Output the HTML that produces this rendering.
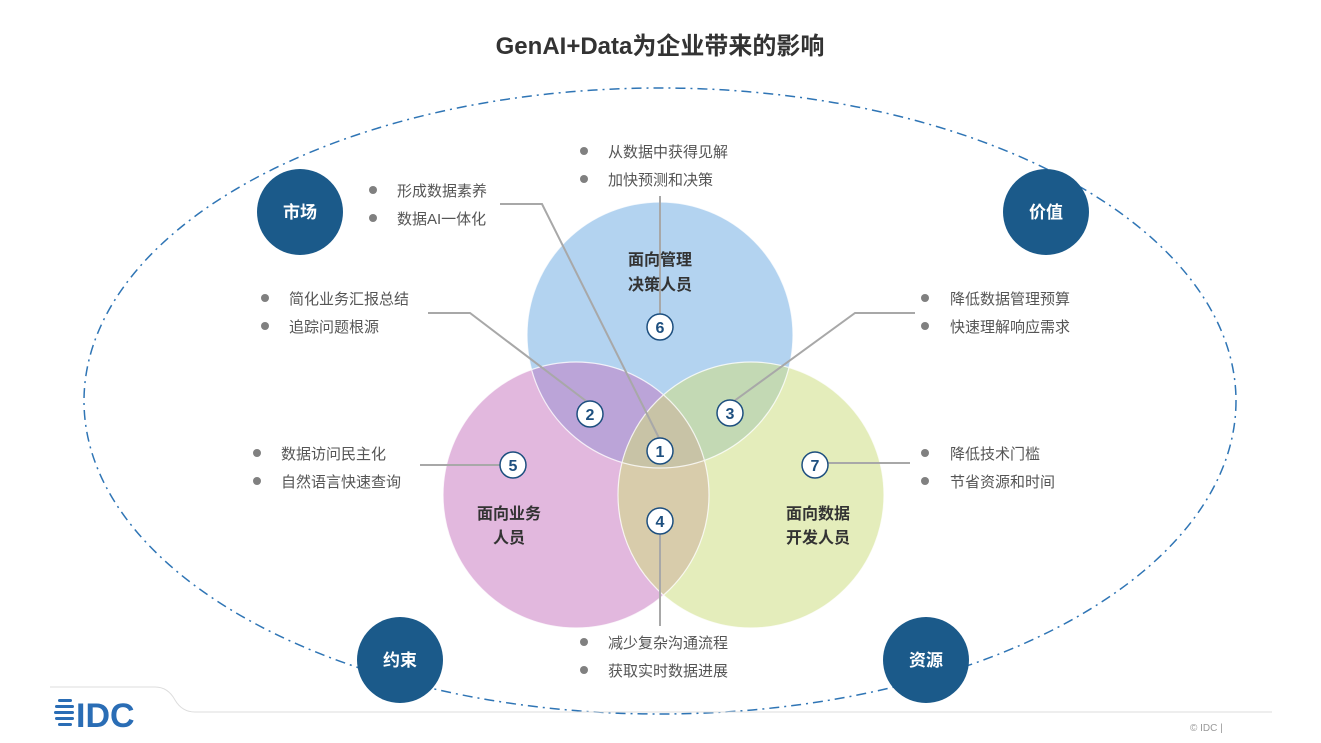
<!DOCTYPE html>
<html><head><meta charset="utf-8"><style>
body{margin:0;width:1321px;height:743px;background:#fff;overflow:hidden;font-family:"Liberation Sans","Noto Sans CJK SC",sans-serif;}
</style></head><body>
<svg width="1321" height="743" viewBox="0 0 1321 743" xmlns="http://www.w3.org/2000/svg" style="position:absolute;left:0;top:0">
<defs>
<clipPath id="cb"><circle cx="660" cy="335" r="133"/></clipPath>
<clipPath id="cp"><circle cx="576" cy="495" r="133"/></clipPath>
<clipPath id="cg"><circle cx="751" cy="495" r="133"/></clipPath>
</defs>
<text x="660" y="54" text-anchor="middle" font-size="24" font-weight="bold" fill="#333" font-family="Liberation Sans, Noto Sans CJK SC, sans-serif">GenAI+Data为企业带来的影响</text>
<ellipse cx="660" cy="401" rx="576" ry="313" fill="none" stroke="#2f75b5" stroke-width="1.5" stroke-dasharray="10,5,2,5"/>
<circle cx="660" cy="335" r="133" fill="#b3d3f0"/>
<circle cx="576" cy="495" r="133" fill="#e2b8de"/>
<circle cx="751" cy="495" r="133" fill="#e4edbb"/>
<circle cx="576" cy="495" r="133" fill="#bba4d8" clip-path="url(#cb)"/>
<circle cx="751" cy="495" r="133" fill="#c3d9b4" clip-path="url(#cb)"/>
<circle cx="751" cy="495" r="133" fill="#d8ccab" clip-path="url(#cp)"/>
<g clip-path="url(#cp)"><circle cx="751" cy="495" r="133" fill="#c8c3a6" clip-path="url(#cb)"/></g>
<g fill="none" stroke="#fff" stroke-width="1.2" opacity="0.8">
<circle cx="660" cy="335" r="133"/><circle cx="576" cy="495" r="133"/><circle cx="751" cy="495" r="133"/>
</g>
<g stroke="#a8a8a8" stroke-width="2" fill="none">
<polyline points="500,204 542,204 660,440"/>
<line x1="660" y1="196" x2="660" y2="314"/>
<polyline points="428,313 470,313 590,404"/>
<polyline points="915,313 855,313 730,404"/>
<line x1="420" y1="465" x2="500" y2="465"/>
<line x1="828" y1="463" x2="910" y2="463"/>
<line x1="660" y1="534" x2="660" y2="626"/>
</g>
<g fill="#fff" stroke="#1d4f7f" stroke-width="1.5">
<circle cx="660" cy="327" r="13"/><circle cx="590" cy="414" r="13"/><circle cx="730" cy="413" r="13"/>
<circle cx="660" cy="451" r="13"/><circle cx="660" cy="521" r="13"/><circle cx="513" cy="465" r="13"/><circle cx="815" cy="465" r="13"/>
</g>
<g fill="#1d4f7f" font-size="16" font-weight="bold" text-anchor="middle" font-family="Liberation Sans, sans-serif">
<text x="660" y="333">6</text><text x="590" y="420">2</text><text x="730" y="419">3</text>
<text x="660" y="457">1</text><text x="660" y="527">4</text><text x="513" y="471">5</text><text x="815" y="471">7</text>
</g>
<g fill="#333" font-size="16" font-weight="bold" text-anchor="middle" font-family="Liberation Sans, Noto Sans CJK SC, sans-serif">
<text x="660" y="265">面向管理</text><text x="660" y="290">决策人员</text>
<text x="509" y="519">面向业务</text><text x="509" y="543">人员</text>
<text x="818" y="519">面向数据</text><text x="818" y="543">开发人员</text>
</g>
<g fill="#1b5a8a">
<circle cx="300" cy="212" r="43"/><circle cx="1046" cy="212" r="43"/>
<circle cx="400" cy="660" r="43"/><circle cx="926" cy="660" r="43"/>
</g>
<g fill="#fff" font-size="17" font-weight="bold" text-anchor="middle" font-family="Liberation Sans, Noto Sans CJK SC, sans-serif">
<text x="300" y="218">市场</text><text x="1046" y="218">价值</text>
<text x="400" y="666">约束</text><text x="926" y="666">资源</text>
</g>
<g fill="#808080">
<circle cx="584" cy="151" r="4"/><circle cx="584" cy="179" r="4"/>
<circle cx="373" cy="190" r="4"/><circle cx="373" cy="218" r="4"/>
<circle cx="265" cy="298" r="4"/><circle cx="265" cy="326" r="4"/>
<circle cx="925" cy="298" r="4"/><circle cx="925" cy="326" r="4"/>
<circle cx="257" cy="453" r="4"/><circle cx="257" cy="481" r="4"/>
<circle cx="925" cy="453" r="4"/><circle cx="925" cy="481" r="4"/>
<circle cx="584" cy="642" r="4"/><circle cx="584" cy="670" r="4"/>
</g>
<g fill="#555" font-size="15" font-family="Liberation Sans, Noto Sans CJK SC, sans-serif">
<text x="608" y="157">从数据中获得见解</text><text x="608" y="185">加快预测和决策</text>
<text x="397" y="196">形成数据素养</text><text x="397" y="224">数据AI一体化</text>
<text x="289" y="304">简化业务汇报总结</text><text x="289" y="332">追踪问题根源</text>
<text x="950" y="304">降低数据管理预算</text><text x="950" y="332">快速理解响应需求</text>
<text x="281" y="459">数据访问民主化</text><text x="281" y="487">自然语言快速查询</text>
<text x="950" y="459">降低技术门槛</text><text x="950" y="487">节省资源和时间</text>
<text x="608" y="648">减少复杂沟通流程</text><text x="608" y="676">获取实时数据进展</text>
</g>
<path d="M50,687 L155,687 Q168,687 175,700 Q182,712 195,712 L1272,712" fill="none" stroke="#ddd" stroke-width="1"/>
<g fill="#2a6db5">
<rect x="58" y="699" width="14" height="3" rx="1.5"/><rect x="55" y="705" width="19" height="3" rx="1.5"/>
<rect x="54" y="711" width="20" height="3" rx="1.5"/><rect x="55" y="717" width="19" height="3" rx="1.5"/>
<rect x="58" y="723" width="14" height="3" rx="1.5"/>
</g>
<text x="76" y="727" fill="#2a6db5" font-size="34" font-weight="bold" font-family="Liberation Sans, sans-serif">IDC</text>
<text x="1190" y="731" fill="#999" font-size="10" font-family="Liberation Sans, sans-serif">© IDC |</text>
</svg>
</body></html>
